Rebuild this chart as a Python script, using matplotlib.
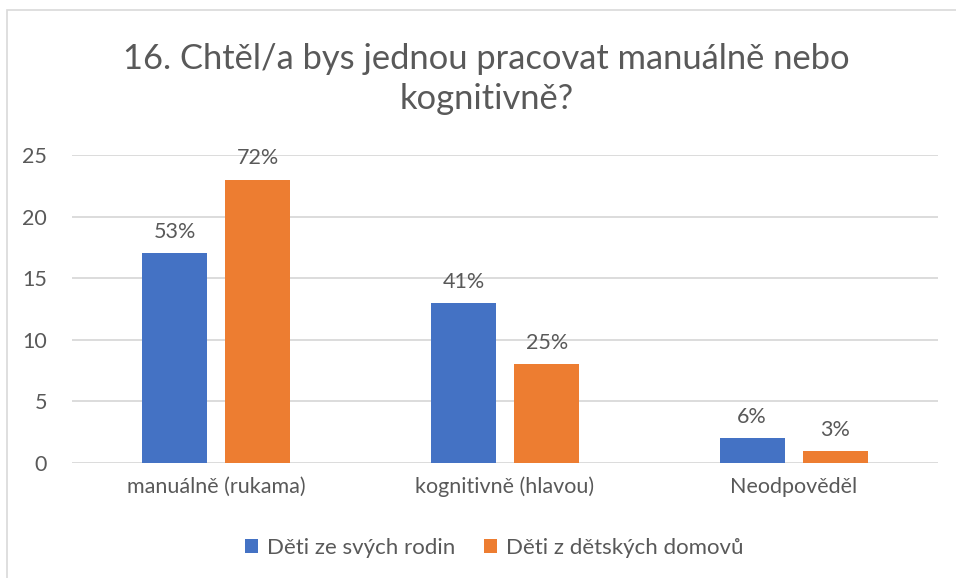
import matplotlib
matplotlib.use("Agg")
import matplotlib.pyplot as plt
from matplotlib.patches import Rectangle
import numpy as np

plt.rcParams['font.family'] = ['Lato', 'DejaVu Sans']

categories = ["manuálně (rukama)", "kognitivně (hlavou)", "Neodpověděl"]
series_names = ["Děti ze svých rodin", "Děti z dětských domovů"]
values_rodiny = [17, 13, 2]
values_domovy = [23, 8, 1]
labels_rodiny = ["53%", "41%", "6%"]
labels_domovy = ["72%", "25%", "3%"]
yticks = [0, 5, 10, 15, 20, 25]
title = "16. Chtěl/a bys jednou pracovat manuálně nebo\nkognitivně?"

blue = "#4472C4"
orange = "#ED7D31"
txt = "#595959"

fig = plt.figure(figsize=(9.56, 5.78), dpi=100)
ax = fig.add_axes([0.0753, 0.199, 0.906, 0.533])

x = np.arange(len(categories))
w = 0.225
off = 0.144
b1 = ax.bar(x - off, values_rodiny, w, color=blue, label=series_names[0], zorder=3)
b2 = ax.bar(x + off, values_domovy, w, color=orange, label=series_names[1], zorder=3)

for bars, labs in ((b1, labels_rodiny), (b2, labels_domovy)):
    for r, l in zip(bars, labs):
        ax.annotate(l, (r.get_x() + r.get_width() / 2, r.get_height()),
                    xytext=(0, 8), textcoords="offset points",
                    ha="center", va="bottom", fontsize=15.5, color=txt)

ax.set_xlim(-0.5, 2.5)
ax.set_ylim(0, 25)
ax.set_yticks(yticks)
ax.set_xticks(x)
ax.set_xticklabels(categories)
ax.tick_params(axis="both", length=0, labelsize=15.5, colors=txt)
ax.tick_params(axis="y", pad=18)
ax.tick_params(axis="x", pad=10)
ax.grid(axis="y", color="#D9D9D9", linewidth=1.3, zorder=0)
for s in ax.spines.values():
    s.set_visible(False)

fig.text(0.509, 0.864, title, ha="center", va="center", fontsize=24.8,
         color=txt, linespacing=1.3)

fig.legend(handles=[b1, b2], labels=series_names, loc="center",
           bbox_to_anchor=(0.517, 0.052), ncol=2, frameon=False,
           fontsize=16, handlelength=0.6, handleheight=0.6,
           handletextpad=0.4, columnspacing=1.3, labelcolor=txt)

fig.patches.append(Rectangle((7 / 956, -0.05), 1.2, 1.05 - 10 / 578,
                             transform=fig.transFigure, fill=False,
                             edgecolor="#D9D9D9", linewidth=1.2))

fig.savefig("out.png", dpi=100, facecolor="white")
